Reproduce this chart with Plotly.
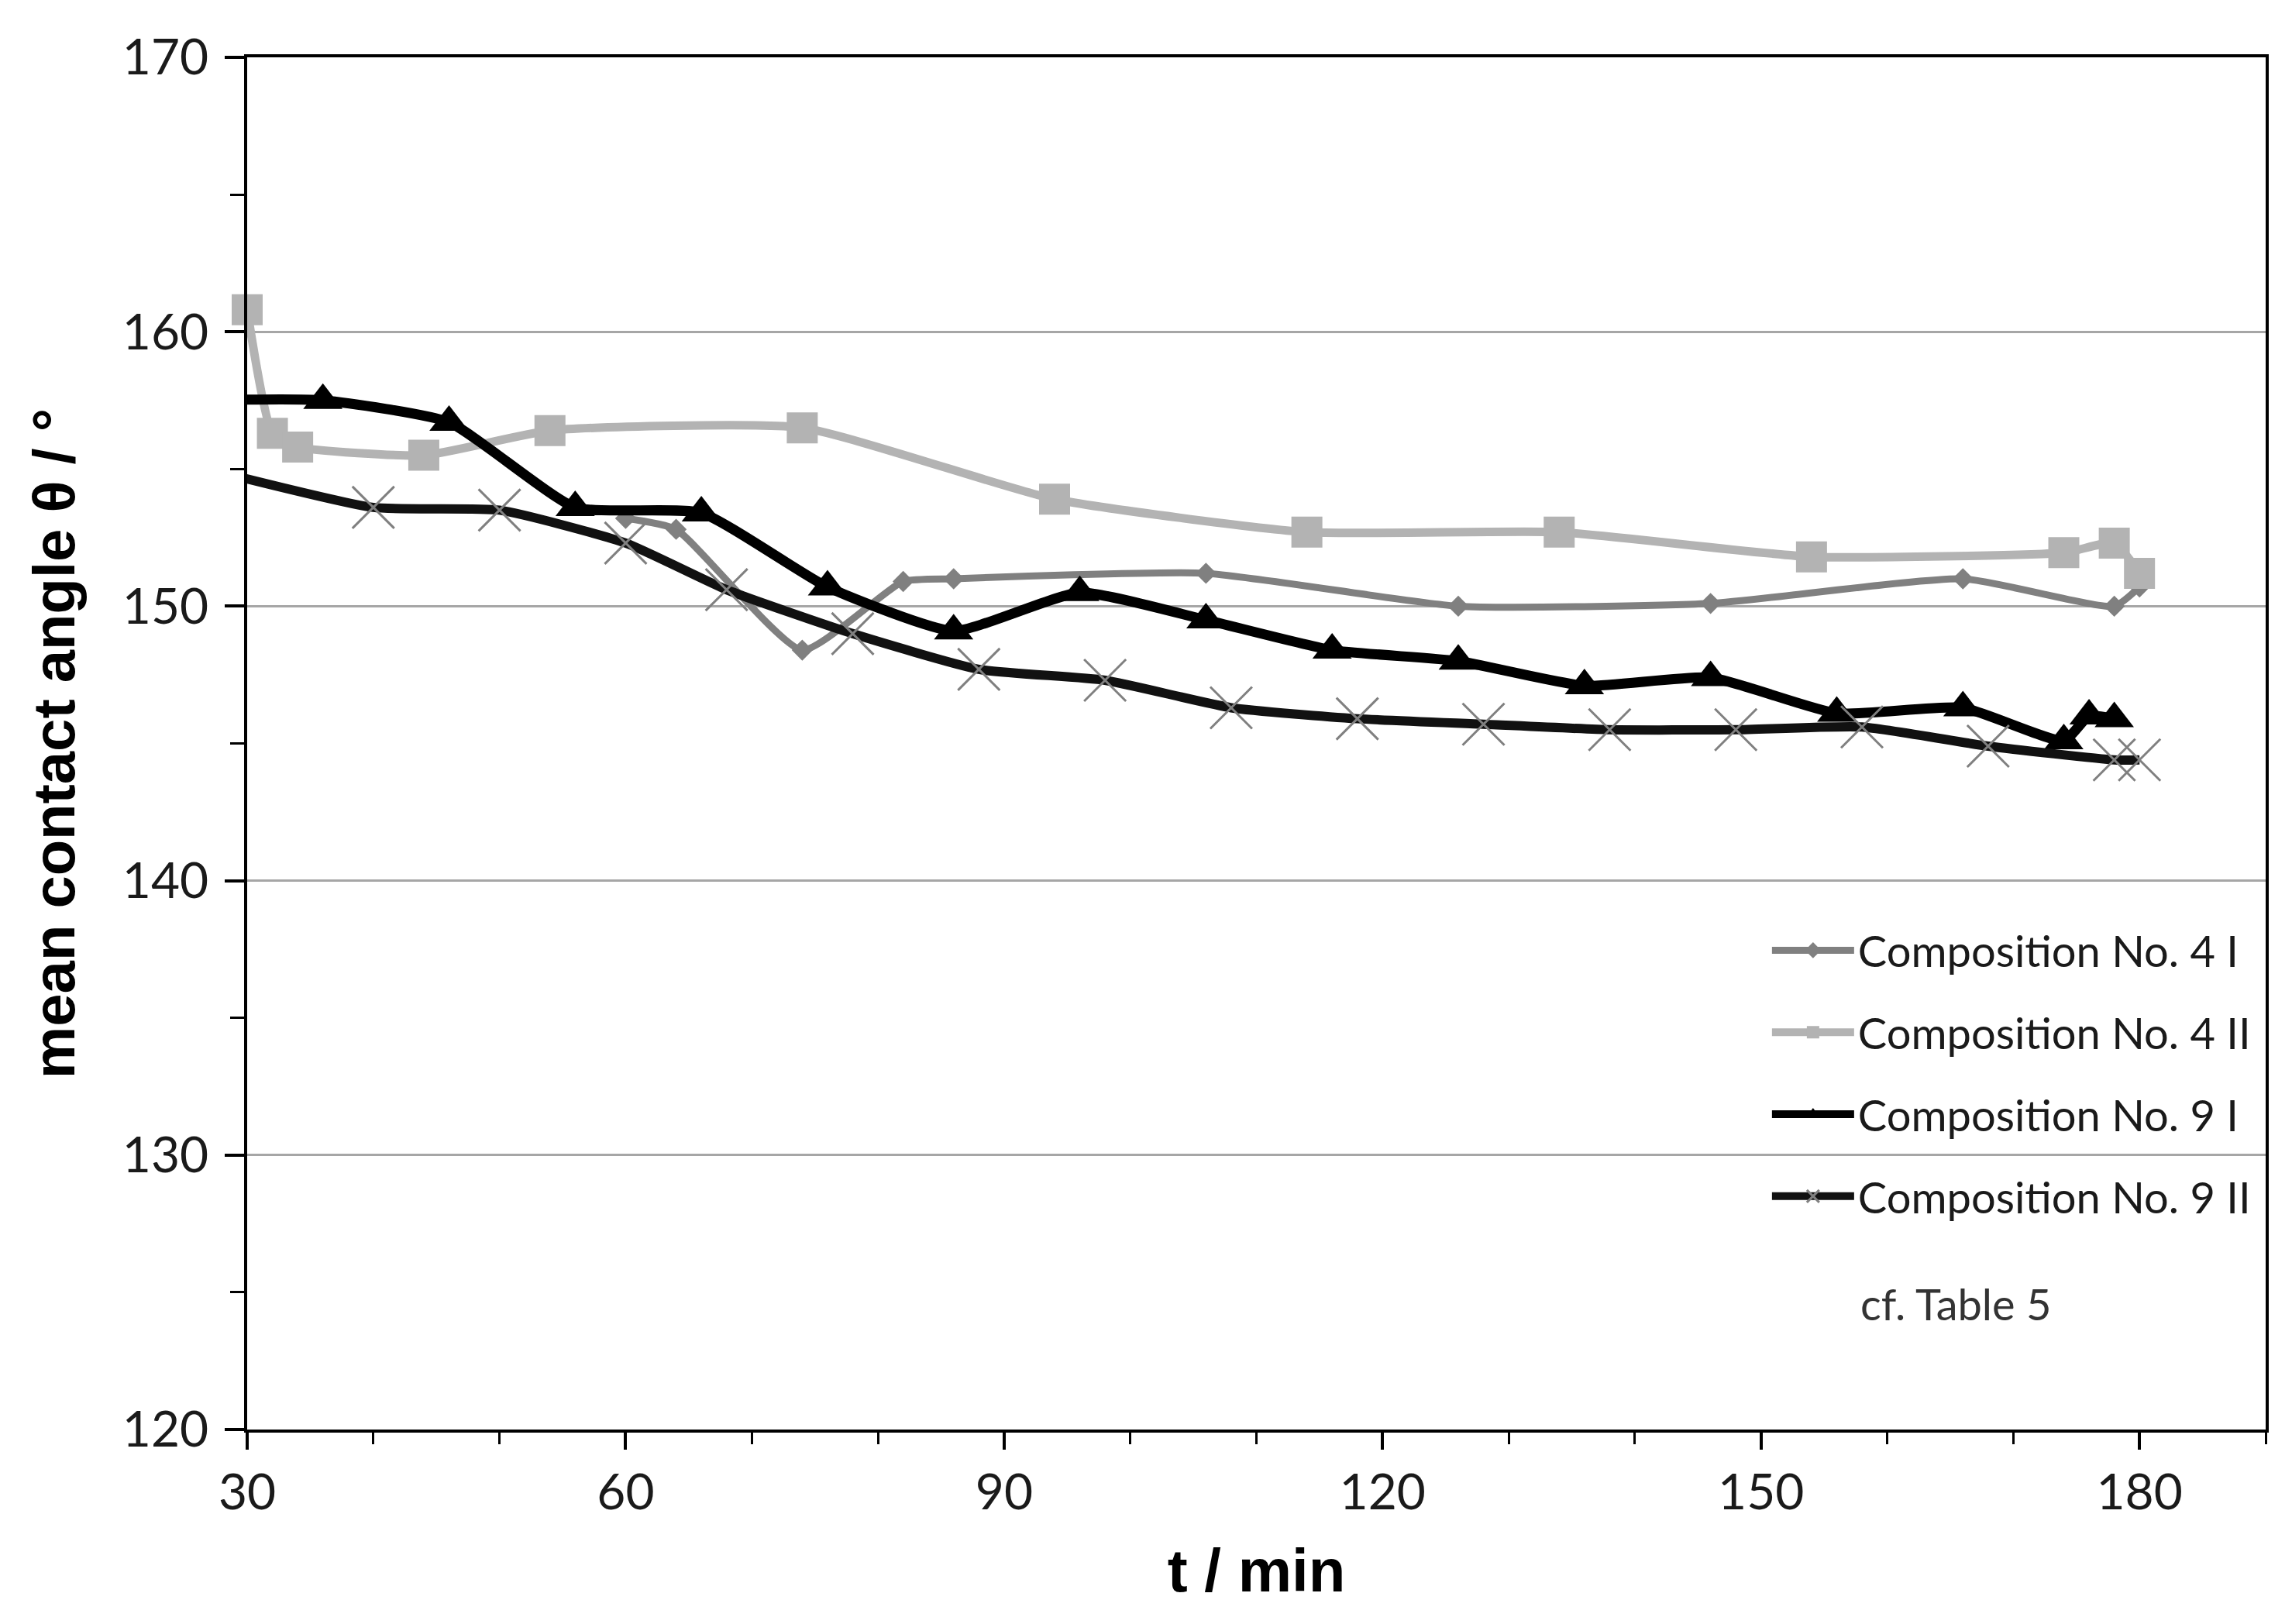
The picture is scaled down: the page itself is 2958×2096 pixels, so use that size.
import plotly.graph_objects as go

# contact angle vs time
t_4i = [60, 64, 74, 82, 86, 106, 126, 146, 166, 178, 180]
angle_4i = [153.2, 152.8, 148.4, 150.9, 151.0, 151.2, 150.0, 150.1, 151.0, 150.0, 150.7]

t_4ii = [30, 32, 34, 44, 54, 74, 94, 114, 134, 154, 174, 178, 180]
angle_4ii = [160.8, 156.3, 155.8, 155.5, 156.4, 156.5, 153.9, 152.7, 152.7, 151.8, 151.95, 152.3, 151.2]

# first points of series 9 lie just left of the axis (clipped, like in the source)
t_9i = [26, 36, 46, 56, 66, 76, 86, 96, 106, 116, 126, 136, 146, 156, 166, 174, 176, 178]
angle_9i = [157.5, 157.5, 156.7, 153.6, 153.4, 150.7, 149.1, 150.5, 149.5, 148.4, 148.0, 147.1,
            147.4, 146.1, 146.3, 145.1, 146.0, 145.9]

t_9ii = [26, 40, 50, 60, 68, 78, 88, 98, 108, 118, 128, 138, 148, 158, 168, 178, 180]
angle_9ii = [155.1, 153.6, 153.5, 152.3, 150.6, 149.0, 147.7, 147.3, 146.3, 145.9, 145.7, 145.5,
             145.5, 145.6, 144.9, 144.4, 144.4]

names = ["Composition No. 4 I", "Composition No. 4 II", "Composition No. 9 I", "Composition No. 9 II"]

fig = go.Figure()

fig.add_trace(go.Scatter(x=t_4i, y=angle_4i, name=names[0], mode="lines+markers", legendgroup="g1",
                         line=dict(color="#808080", width=9, shape="spline", smoothing=0.5),
                         marker=dict(symbol="diamond", size=21, color="#808080")))

fig.add_trace(go.Scatter(x=t_4ii, y=angle_4ii, name=names[1], mode="lines+markers", legendgroup="g2",
                         cliponaxis=False,
                         line=dict(color="#b3b3b3", width=11, shape="spline", smoothing=0.5),
                         marker=dict(symbol="square", size=40, color="#b3b3b3")))

fig.add_trace(go.Scatter(x=t_9i, y=angle_9i, name=names[2], mode="lines+markers", legendgroup="g3",
                         line=dict(color="black", width=13, shape="spline", smoothing=0.5),
                         marker=dict(symbol="triangle-up", size=44, color="black")))

fig.add_trace(go.Scatter(x=t_9ii, y=angle_9ii, name=names[3], mode="lines+markers", legendgroup="g4",
                         line=dict(color="#111111", width=12, shape="spline", smoothing=0.5),
                         marker=dict(symbol="x-thin", size=54, color="#808080",
                                     line=dict(color="#808080", width=3))))

fig.add_annotation(text="cf. Table 5", x=0.7985, y=0.0915, xref="paper", yref="paper",
                   xanchor="left", yanchor="middle", showarrow=False,
                   font=dict(family="Lato", size=56, color="#333333"))

fig.update_layout(
    width=2958, height=2096,
    margin=dict(l=311, r=42, t=66, b=259),
    plot_bgcolor="white", paper_bgcolor="white",
    font=dict(family="Lato", size=64, color="#1a1a1a"),
    legend=dict(x=0.7535, y=0.3735, xanchor="left", yanchor="top",
                font=dict(family="Lato", size=56, color="#1a1a1a"),
                itemwidth=106, tracegroupgap=30, bgcolor="rgba(0,0,0,0)"),
)

fig.update_xaxes(
    range=[30, 190], tick0=30, dtick=30,
    showline=True, linecolor="black", linewidth=4, mirror=True,
    ticks="outside", ticklen=22, tickwidth=4, tickcolor="black",
    minor=dict(dtick=10, ticks="outside", ticklen=15, tickwidth=3, tickcolor="black"),
    showgrid=False, zeroline=False, ticklabelstandoff=0,
    title=dict(text="t / min", standoff=40,
               font=dict(family="Liberation Sans", size=78, weight="bold", color="black")),
)

fig.update_yaxes(
    range=[120, 170], tick0=120, dtick=10,
    showline=True, linecolor="black", linewidth=4, mirror=True,
    ticks="outside", ticklen=25, tickwidth=4, tickcolor="black",
    minor=dict(dtick=5, ticks="outside", ticklen=18, tickwidth=3, tickcolor="black"),
    showgrid=True, gridcolor="#a6a6a6", gridwidth=3, zeroline=False, ticklabelstandoff=8,
    title=dict(text="mean contact angle θ / °", standoff=37,
               font=dict(family="Liberation Sans", size=76, weight="bold", color="black")),
)

fig.write_html("out.html")
